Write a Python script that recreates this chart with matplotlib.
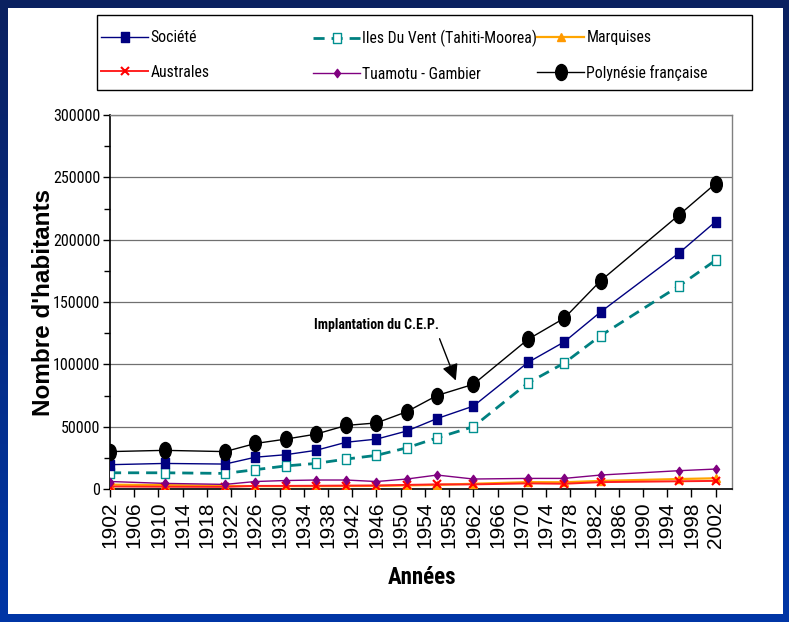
import matplotlib
matplotlib.use('Agg')
import matplotlib.pyplot as plt
from matplotlib import font_manager
from matplotlib.path import Path
from matplotlib.patches import Rectangle
from matplotlib.colors import LinearSegmentedColormap
import numpy as np

# ---------------- data ----------------
years = [1902, 1911, 1921, 1926, 1931, 1936, 1941, 1946, 1951, 1956, 1962, 1971, 1977, 1983, 1996, 2002]
societe = [19500, 20500, 20000, 25500, 27500, 31000, 37500, 40000, 46500, 56500, 66500, 101500, 118000, 142000, 189500, 214500]
iles_du_vent = [13000, 13000, 12500, 15500, 18500, 20500, 24000, 27000, 33000, 41000, 50000, 85000, 101000, 123000, 163000, 183500]
marquises = [3500, 3100, 2500, 2300, 2300, 2300, 2400, 2500, 2900, 3300, 4200, 5500, 5400, 6500, 8000, 8600]
australes = [2000, 1800, 1700, 2500, 2500, 2600, 2700, 2800, 3300, 3700, 3700, 4500, 4200, 5500, 6200, 6500]
tuamotu = [6000, 4500, 3700, 6000, 6800, 7200, 7200, 6000, 8000, 11200, 8000, 8500, 8500, 11200, 14700, 16000]
polynesie = [30000, 31000, 30000, 36500, 40000, 44000, 51000, 53000, 62000, 75000, 84000, 120000, 137000, 167000, 220000, 245000]

year_ticks = list(range(1902, 2003, 4))
y_ticks = list(range(0, 300001, 50000))

labels = ["Société", "Iles Du Vent (Tahiti-Moorea)", "Marquises",
          "Australes", "Tuamotu - Gambier", "Polynésie française"]

# ---------------- fonts ----------------
plt.rcParams['font.family'] = ['Liberation Sans', 'DejaVu Sans']
_entries = font_manager.fontManager.ttflist
_names = {f.name for f in _entries}
_pref = ['Liberation Sans Narrow', 'Arial Narrow', 'Roboto Condensed', 'PT Sans Narrow',
         'Archivo Narrow', 'Asap Condensed', 'Barlow Condensed']
NARROW = next((n for n in _pref if n in _names), 'Liberation Sans')


def _has_bold(n):
    for f in _entries:
        if f.name == n and f.style == 'normal':
            w = f.weight if isinstance(f.weight, int) else (700 if 'bold' in str(f.weight) else 400)
            if w >= 700 and '[' not in f.fname:
                return True
    return False


NARROW_B = next((n for n in _pref if n in _names and _has_bold(n)), 'Liberation Sans')

W, H = 789, 622
fig = plt.figure(figsize=(W / 100, H / 100), dpi=100)

# background frame (blue gradient) + white panel
bg = fig.add_axes([0, 0, 1, 1], zorder=-10)
grad = np.linspace(0, 1, 256).reshape(-1, 1)
cmap = LinearSegmentedColormap.from_list('b', ['#0b2160', '#0036a6'])
bg.imshow(grad, aspect='auto', cmap=cmap, extent=[0, 1, 0, 1])
bg.axis('off')
fig.patches.append(Rectangle((8 / W, 8 / H), (783 - 8) / W, (614 - 8) / H,
                             transform=fig.transFigure, facecolor='white',
                             edgecolor='none', zorder=-5))

# custom marker shapes
circ = Path.unit_circle()
ellipse = Path(circ.vertices * np.array([0.73, 1.0]), circ.codes)
rect = Path([(-0.36, -0.5), (0.36, -0.5), (0.36, 0.5), (-0.36, 0.5), (-0.36, -0.5)], closed=True)
diamond = Path([(0, -0.5), (0.37, 0), (0, 0.5), (-0.37, 0), (0, -0.5)], closed=True)

ax = fig.add_axes([110 / W, 1 - 489 / H, 622 / W, 374 / H])
ax.set_facecolor('none')

l1, = ax.plot(years, societe, color='#000080', lw=1, marker=rect, ms=7.8,
              mfc='#000080', mec='#000080', label=labels[0], zorder=4)
l2, = ax.plot(years, iles_du_vent, color='#008080', lw=2, ls=(0, (4, 2.5)),
              marker=rect, ms=7.5, mfc='white', mec='#009090', mew=1,
              label=labels[1], zorder=3)
l3, = ax.plot(years, marquises, color='#FFA500', lw=1.6, marker='^', ms=6,
              mfc='#FF9900', mec='#FF9900', label=labels[2], zorder=3)
l4, = ax.plot(years, australes, color='#FF2020', lw=1.4, marker='x', ms=6,
              mew=1.5, mec='#FF0000', label=labels[3], zorder=3)
l5, = ax.plot(years, tuamotu, color='#800080', lw=1, marker=diamond, ms=6,
              mfc='#800080', mec='#800080', label=labels[4], zorder=3)
l6, = ax.plot(years, polynesie, color='black', lw=1, marker=ellipse, ms=11.5,
              mfc='black', mec='black', label=labels[5], zorder=5)

ax.set_xlim(1902, 2004.7)
ax.set_ylim(0, 300000)
ax.set_xticks(year_ticks)
ax.set_xticklabels([str(y) for y in year_ticks], rotation=90, fontsize=15)
ax.set_yticks(y_ticks)
ax.set_yticklabels([str(v) for v in y_ticks], fontsize=11.5, fontfamily=NARROW)
ax.set_yticks(list(range(25000, 300000, 50000)), minor=True)
ax.tick_params(axis='y', which='major', direction='out', length=5, width=1, pad=2)
ax.tick_params(axis='y', which='minor', direction='out', length=4, width=1)
ax.tick_params(axis='x', which='major', direction='out', length=6, width=1, pad=3)
ax.yaxis.grid(True, which='major', color='#707070', lw=0.9)
ax.set_axisbelow(True)
for s in ['left', 'bottom']:
    ax.spines[s].set_color('black')
    ax.spines[s].set_linewidth(1.2)
for s in ['top', 'right']:
    ax.spines[s].set_color('#808080')
    ax.spines[s].set_linewidth(1)

ax.annotate("Implantation du C.E.P.", xy=(1959.1, 87000), xytext=(1956.4, 131500),
            fontfamily=NARROW_B, fontweight='bold', fontsize=10, ha='right', va='center',
            arrowprops=dict(arrowstyle='-|>,head_length=0.7,head_width=0.35',
                            color='black', lw=1, mutation_scale=14,
                            relpos=(0.98, 0.0), shrinkA=3, shrinkB=0))

fig.text(44 / W, 1 - 302 / H, "Nombre d'habitants", rotation=90, ha='center',
         va='center', fontsize=17.5, fontweight='bold')
fig.text(422 / W, 1 - 577 / H, "Années", ha='center', va='center',
         fontsize=16.5, fontweight='bold', fontfamily=NARROW_B)

# legend box and three columns
fig.patches.append(Rectangle((97 / W, 1 - 90 / H), (752 - 97) / W, 75 / H,
                             transform=fig.transFigure, fill=False,
                             edgecolor='black', lw=1, zorder=2))
cols = [([l1, l4], [labels[0], labels[3]], 101),
        ([l2, l5], [labels[1], labels[4]], 313),
        ([l3, l6], [labels[2], labels[5]], 537)]
for hs, ls_, xpx in cols:
    fig.legend(hs, ls_, loc='upper left', bbox_to_anchor=(xpx / W, 1 - 30 / H),
               frameon=False, borderpad=0, borderaxespad=0, handlelength=3.0,
               handletextpad=0.15, labelspacing=1.25, numpoints=1,
               prop={'family': NARROW, 'size': 11.3})

fig.savefig('out.png', dpi=100)
